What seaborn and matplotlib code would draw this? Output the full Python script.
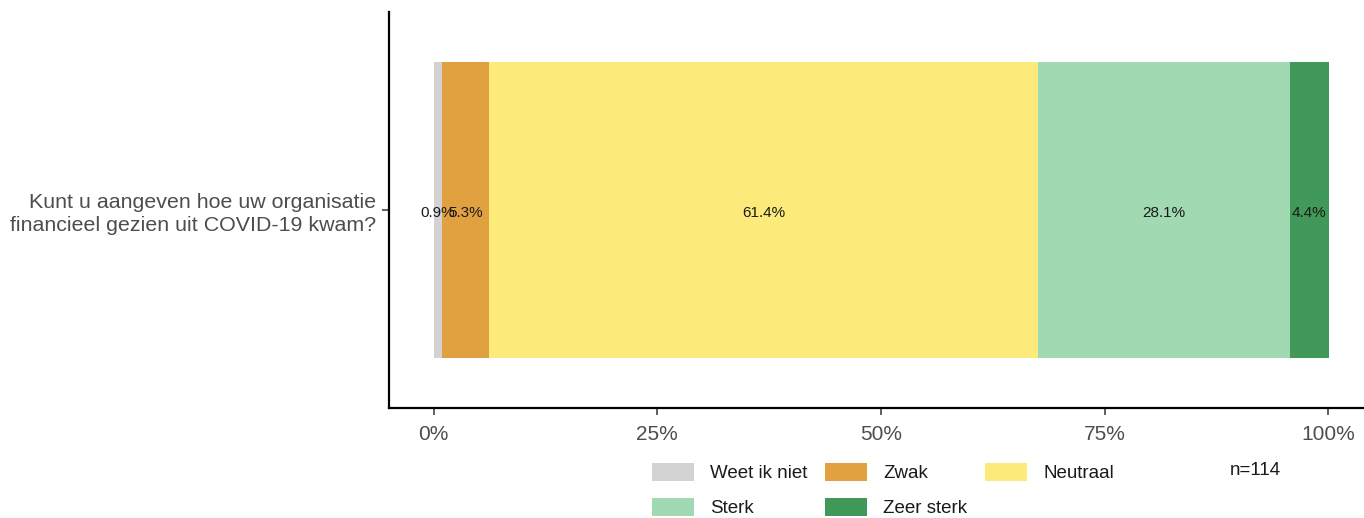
import pandas as pd
import numpy as np
import matplotlib.pyplot as plt
import seaborn as sns
from matplotlib.patches import Patch

# --- Data ---
question = "Kunt u aangeven hoe uw organisatie\nfinancieel gezien uit COVID-19 kwam?"
categories = ["Weet ik niet", "Zwak", "Neutraal", "Sterk", "Zeer sterk"]
percentages = [0.9, 5.3, 61.4, 28.1, 4.4]
colors = ["#D3D3D3", "#E1A141", "#FCEB7A", "#A1D9B2", "#419959"]
n_total = 114

df = pd.DataFrame({"categorie": categories, "pct": percentages, "kleur": colors})
df["cum"] = df["pct"].cumsum()
df["start"] = df["cum"] - df["pct"]
df["vraag"] = question

sns.set_style("white")
plt.rcParams["font.family"] = ["Liberation Sans", "DejaVu Sans"]

fig = plt.figure(figsize=(13.64, 5.18), dpi=100)
ax = fig.add_axes([0.2852, 0.2124, 0.7148, 0.7644])

# stacked bar: draw cumulative totals from the largest down
for i in range(len(df) - 1, -1, -1):
    row = df.iloc[[i]]
    sns.barplot(data=row, x="cum", y="vraag", orient="h", color=row["kleur"].iloc[0],
                width=0.9, saturation=1, ax=ax, linewidth=0)

# labels in the middle of each segment (small ones overlap, as in the original)
for _, r in df.iterrows():
    ax.text(r["start"] + r["pct"] / 2, 0.01, f"{r['pct']:.1f}%", ha="center", va="center",
            fontsize=11, color="#1a1a1a")

ax.set_xlim(-5, 104)
ax.set_ylim(0.6, -0.6)
ax.set_xticks([0, 25, 50, 75, 100])
ax.set_xticklabels(["0%", "25%", "50%", "75%", "100%"])
ax.set_xlabel("")
ax.set_ylabel("")
ax.tick_params(axis="both", labelsize=15, labelcolor="#4D4D4D", color="#333333",
               length=5, width=1.1, bottom=True, left=True)
ax.tick_params(axis="x", pad=7)
ax.tick_params(axis="y", pad=4, labelsize=15.4)
for lbl in ax.get_yticklabels():
    lbl.set_linespacing(1.3)

sns.despine(ax=ax)
for s in ["left", "bottom"]:
    ax.spines[s].set_linewidth(1.6)
    ax.spines[s].set_color("black")

# --- Legend (row-wise order) ---
handles = [Patch(facecolor=c, edgecolor="none") for c in colors]
order = [0, 3, 1, 4, 2]
fig.legend([handles[i] for i in order], [categories[i] for i in order],
           ncol=3, loc="upper left", bbox_to_anchor=(0.471, 0.125), frameon=False,
           fontsize=13.5, handlelength=2.25, handleheight=1.1, columnspacing=0.95,
           labelspacing=0.85, handletextpad=0.85, borderpad=0, labelcolor="#1a1a1a")
fig.text(0.92, 0.091, f"n={n_total}", ha="center", va="center", fontsize=13.5,
         color="#1a1a1a")

plt.savefig("out.png", dpi=100)
